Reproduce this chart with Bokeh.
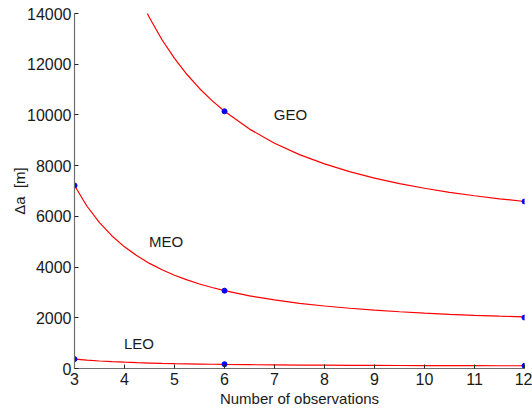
from bokeh.plotting import figure
from bokeh.models import Range1d, FixedTicker, ColumnDataSource
from bokeh.core.properties import value
from bokeh.embed import file_html
from bokeh.resources import INLINE

# Curve samples (number of observations -> delta a [m])
curve_x = [3, 3.25, 3.5, 3.75, 4, 4.25, 4.5, 4.75, 5, 5.25, 5.5, 5.75, 6,
           6.5, 7, 7.5, 8, 8.5, 9, 9.5, 10, 10.5, 11, 11.5, 12]
geo_curve = [24366, 21561, 19335, 17539, 16069, 14851, 13830, 12966, 12229, 11594, 11044, 10564, 10142,
             9441, 8884, 8435, 8068, 7763, 7508, 7292, 7108, 6949, 6812, 6692, 6586]
meo_curve = [7218, 6399, 5750, 5227, 4798, 4443, 4145, 3893, 3678, 3493, 3332, 3193, 3070,
             2865, 2703, 2572, 2465, 2376, 2302, 2239, 2185, 2138, 2098, 2063, 2033]
leo_curve = [371, 330, 296, 270, 248, 230, 215, 202, 191, 182, 174, 167, 160,
             150, 142, 135, 130, 125, 121, 118, 115, 113, 111, 109, 108]

# Observed points
obs_x = [3, 6, 12]
geo_pts = [24366, 10142, 6586]
meo_pts = [7218, 3070, 2010]
leo_pts = [371, 170, 108]

labels = ["GEO", "MEO", "LEO"]
label_x = [7.32, 4.83, 4.29]
label_y = [10000, 5000, 1000]

x_ticks = [3, 4, 5, 6, 7, 8, 9, 10, 11, 12]
y_ticks = [0, 2000, 4000, 6000, 8000, 10000, 12000, 14000]

FONT = "Liberation Sans"

p = figure(width=532, height=413, output_backend="svg", toolbar_location=None,
           x_range=Range1d(3, 12), y_range=Range1d(0, 14000),
           min_border_left=74, min_border_right=8, min_border_top=13, min_border_bottom=45)
p.outline_line_color = None
p.grid.grid_line_color = None
p.background_fill_color = "white"
p.border_fill_color = "white"

for ax in (p.xaxis[0], p.yaxis[0]):
    ax.axis_line_color = "#6e6e6e"
    ax.axis_line_width = 1.2
    ax.major_tick_line_color = "#262626"
    ax.major_tick_in = 4
    ax.major_tick_out = 0
    ax.minor_tick_line_color = None
    ax.major_label_text_font = FONT
    ax.major_label_text_font_size = "16px"
    ax.major_label_text_color = "#1a1a1a"
    ax.axis_label_text_font = FONT
    ax.axis_label_text_font_style = "normal"
    ax.axis_label_text_color = "#1a1a1a"

p.xaxis[0].ticker = FixedTicker(ticks=x_ticks)
p.yaxis[0].ticker = FixedTicker(ticks=y_ticks)
p.xaxis[0].axis_label = "Number of observations"
p.xaxis[0].axis_label_text_font_size = "15px"
p.xaxis[0].major_label_standoff = 4
p.xaxis[0].axis_label_standoff = 2
p.yaxis[0].axis_label = "\u0394a\u00a0\u00a0[m]"
p.yaxis[0].axis_label_text_font_size = "15px"
p.yaxis[0].major_label_standoff = 3
p.yaxis[0].axis_label_standoff = -4

for ys in (geo_curve, meo_curve, leo_curve):
    p.line(curve_x, ys, line_color="#ff0000", line_width=1.2)

for ys in (geo_pts, meo_pts, leo_pts):
    p.scatter(obs_x, ys, size=5, fill_color="#0000ff", line_color="#0000ff")

src = ColumnDataSource(dict(x=label_x, y=label_y, t=labels))
p.text(x="x", y="y", text="t", source=src, text_align="center", text_baseline="middle",
       text_font=value(FONT), text_font_size="15px", text_color="#1a1a1a")

open("out.html", "w").write(file_html(p, INLINE))
